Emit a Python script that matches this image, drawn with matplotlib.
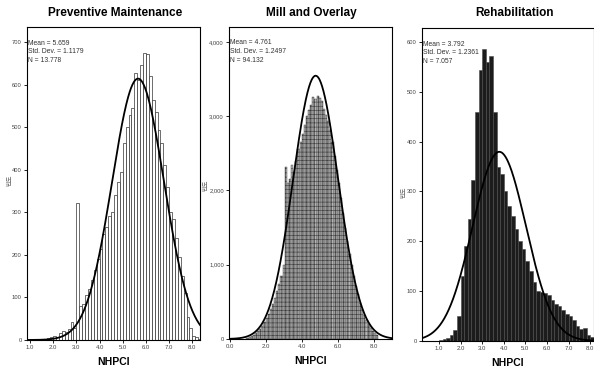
import numpy as np
import matplotlib
matplotlib.use("Agg")
import matplotlib.pyplot as plt

# ---------------- data ----------------
titles = ["Preventive Maintenance", "Mill and Overlay", "Rehabilitation"]
means = [5.659, 4.761, 3.792]
sds = [1.1179, 1.2497, 1.2361]
ns = [13778, 94132, 7057]
n_labels = ["13.778", "94.132", "7.057"]

pm_start, pm_width = 1.0, 0.125
pm_counts = [0, 0, 1, 1, 2, 3, 4, 6, 10, 8, 16, 20, 18, 26, 42, 28,
             322, 80, 85, 105, 120, 140, 165, 190,
             215, 250, 265, 292, 300, 340, 372, 396,
             463, 500, 529, 546, 627, 612, 647, 676,
             673, 620, 565, 537, 494, 463, 412, 360,
             300, 285, 240, 195, 150, 110, 55, 28, 10, 6, 3]

mo_start, mo_width = 0.92, 0.118
mo_counts = [20, 30, 45, 60, 85, 110, 140, 180, 230, 280, 340, 400, 470, 550,
             640, 740, 850, 1000, 2310, 2100, 2150, 2340, 2250, 2400, 2560,
             2650, 2760, 2880, 3000, 3080, 3150, 3260, 3230, 3270, 3240, 3200,
             3100, 3020, 2930, 2820, 2650, 2470, 2280, 2100, 1900, 1700, 1500,
             1320, 1150, 990, 850, 720, 600, 490, 400, 320, 250, 200, 150, 110,
             80, 55]

rh_start, rh_width = 1.0, 1.0 / 6.0
rh_counts = [3, 4, 6, 12, 22, 50, 130, 190, 245, 323, 460, 543, 586, 560, 571,
             460, 350, 335, 300, 270, 250, 225, 200, 185, 160, 140, 118, 100,
             98, 96, 92, 82, 75, 70, 62, 55, 50, 42, 30, 24, 26, 12, 8]

x_ticks = [[1, 2, 3, 4, 5, 6, 7, 8], [0, 2, 4, 6, 8], [1, 2, 3, 4, 5, 6, 7, 8]]
y_ticks = [[0, 100, 200, 300, 400, 500, 600, 700],
           [0, 1000, 2000, 3000, 4000],
           [0, 100, 200, 300, 400, 500, 600]]
y_tick_labels = [[str(v) for v in y_ticks[0]],
                 ["0", "1,000", "2,000", "3,000", "4,000"],
                 [str(v) for v in y_ticks[2]]]
xlims = [(0.87, 8.33), (-0.05, 9.0), (0.21, 8.18)]
ylims = [(0, 736), (0, 4202), (0, 628)]

# ---------------- layout (pixels) ----------------
W, H = 594, 372
boxes = [(27, 200, 27, 340), (229, 392, 27, 339), (422, 594, 28, 341)]
title_x = [115, 311, 515]
ylab_x = [9, 205, 403]
ylab_y = [180, 185, 192]

narrow = ["Liberation Sans Narrow", "Liberation Sans", "DejaVu Sans"]
plt.rcParams["hatch.linewidth"] = 0.4

fig = plt.figure(figsize=(W / 100, H / 100), dpi=100)
fig.patch.set_facecolor("white")

series = [(pm_start, pm_width, pm_counts),
          (mo_start, mo_width, mo_counts),
          (rh_start, rh_width, rh_counts)]
styles = [dict(facecolor="white", edgecolor="#333333", linewidth=0.5),
          dict(facecolor="#b4b4b4", edgecolor="#3a3a3a", linewidth=0.3, hatch="++++"),
          dict(facecolor="#1c1c1c", edgecolor="#4a4a4a", linewidth=0.4)]

for i in range(3):
    l, r, t, b = boxes[i]
    ax = fig.add_axes([l / W, (H - b) / H, (r - l) / W, (b - t) / H])
    start, bw, counts = series[i]
    counts = np.array(counts, dtype=float)
    lefts = start + bw * np.arange(len(counts))
    ax.bar(lefts, counts, width=bw, align="edge", **styles[i])
    xs = np.linspace(xlims[i][0], xlims[i][1], 400)
    curve = ns[i] * bw / (sds[i] * np.sqrt(2 * np.pi)) * np.exp(-0.5 * ((xs - means[i]) / sds[i]) ** 2)
    ax.plot(xs, curve, color="black", lw=1.3)
    ax.set_xlim(*xlims[i])
    ax.set_ylim(*ylims[i])
    ax.set_xticks(x_ticks[i])
    ax.set_xticklabels([f"{v:.1f}" for v in x_ticks[i]], fontsize=4.3,
                       family=narrow, color="#444444")
    ax.set_yticks(y_ticks[i])
    ax.set_yticklabels(y_tick_labels[i], fontsize=4.2, family=narrow, color="#444444")
    ax.tick_params(axis="both", length=2.5, width=0.6, pad=1.2)
    for s in ax.spines.values():
        s.set_linewidth(0.8)
    ax.text(0.005, 0.96, f"Mean = {means[i]}\nStd. Dev. = {sds[i]}\nN = {n_labels[i]}",
            transform=ax.transAxes, ha="left", va="top", fontsize=4.9,
            family=narrow, color="#333333", linespacing=1.35)
    ax.set_xlabel("NHPCI", fontsize=7.5, fontweight="bold", family=narrow, labelpad=5)
    fig.text(ylab_x[i] / W, 1 - ylab_y[i] / H, "빈도", rotation=90, fontsize=4.5,
             family=["Noto Sans CJK KR", "DejaVu Sans"], color="#666666",
             ha="center", va="center")
    fig.text(title_x[i] / W, 1 - 13 / H, titles[i], fontsize=8.5, fontweight="bold",
             family=narrow, ha="center", va="center")

fig.savefig("out.png", dpi=100)
